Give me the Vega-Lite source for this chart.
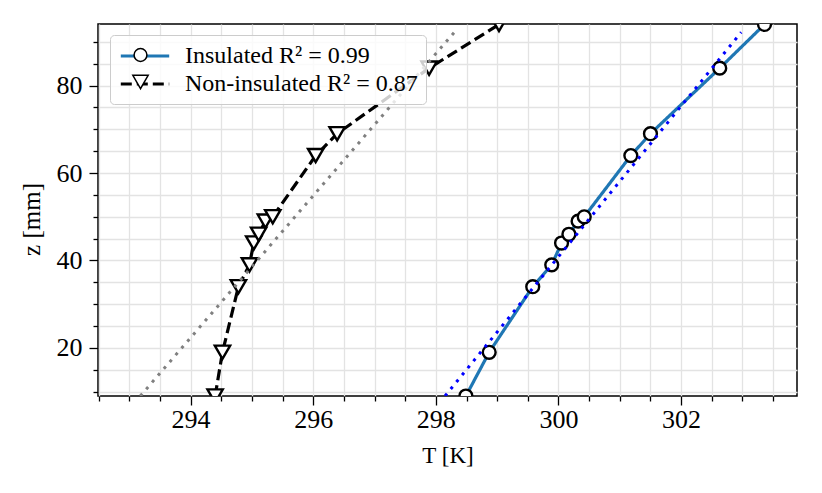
{
  "$schema": "https://vega.github.io/schema/vega-lite/v6.json",
  "width": 699,
  "height": 372,
  "autosize": "none",
  "padding": {"left": 98, "top": 24, "right": 25, "bottom": 97},
  "config": {
    "font": "Liberation Serif",
    "view": {"stroke": "black", "strokeWidth": 1.5}
  },
  "datasets": {
    "profiles": [
      {"series": "Insulated R² = 0.99", "T": 298.49, "z": 9},
      {"series": "Insulated R² = 0.99", "T": 298.87, "z": 19},
      {"series": "Insulated R² = 0.99", "T": 299.58, "z": 34},
      {"series": "Insulated R² = 0.99", "T": 299.89, "z": 39},
      {"series": "Insulated R² = 0.99", "T": 300.05, "z": 44},
      {"series": "Insulated R² = 0.99", "T": 300.17, "z": 46},
      {"series": "Insulated R² = 0.99", "T": 300.32, "z": 49},
      {"series": "Insulated R² = 0.99", "T": 300.42, "z": 50},
      {"series": "Insulated R² = 0.99", "T": 301.18, "z": 64},
      {"series": "Insulated R² = 0.99", "T": 301.5, "z": 69},
      {"series": "Insulated R² = 0.99", "T": 302.63, "z": 84},
      {"series": "Insulated R² = 0.99", "T": 303.36, "z": 94},
      {"series": "Non-insulated R² = 0.87", "T": 294.4, "z": 9},
      {"series": "Non-insulated R² = 0.87", "T": 294.52, "z": 19},
      {"series": "Non-insulated R² = 0.87", "T": 294.78, "z": 34},
      {"series": "Non-insulated R² = 0.87", "T": 294.96, "z": 39},
      {"series": "Non-insulated R² = 0.87", "T": 295.03, "z": 44},
      {"series": "Non-insulated R² = 0.87", "T": 295.11, "z": 46},
      {"series": "Non-insulated R² = 0.87", "T": 295.22, "z": 49},
      {"series": "Non-insulated R² = 0.87", "T": 295.34, "z": 50},
      {"series": "Non-insulated R² = 0.87", "T": 296.04, "z": 64},
      {"series": "Non-insulated R² = 0.87", "T": 296.39, "z": 69},
      {"series": "Non-insulated R² = 0.87", "T": 297.89, "z": 84},
      {"series": "Non-insulated R² = 0.87", "T": 299.03, "z": 94}
    ],
    "fits": [
      {"fit": "insulated", "T": 298.15, "z": 9},
      {"fit": "insulated", "T": 302.98, "z": 92.2},
      {"fit": "non-insulated", "T": 293.18, "z": 9},
      {"fit": "non-insulated", "T": 298.35, "z": 93}
    ]
  },
  "encoding": {
    "x": {
      "field": "T",
      "type": "quantitative",
      "scale": {"domain": [292.49, 303.89], "nice": false, "zero": false},
      "axis": {
        "title": "T [K]",
        "values": [292.5, 293, 293.5, 294, 294.5, 295, 295.5, 296, 296.5, 297, 297.5, 298, 298.5, 299, 299.5, 300, 300.5, 301, 301.5, 302, 302.5, 303, 303.5],
        "tickCount": 40,
        "labelExpr": "datum.value % 2 === 0 ? format(datum.value, 'd') : ''",
        "labelOverlap": false,
        "labelFlush": false,
        "labelFontSize": 26,
        "labelColor": "black",
        "labelPadding": 1,
        "tickSize": {"condition": {"test": "datum.value % 2 === 0", "value": 9}, "value": 5},
        "tickColor": "black",
        "tickWidth": 1.3,
        "domain": false,
        "grid": true,
        "gridColor": "#e3e3e3",
        "gridWidth": 1.3,
        "titleFontSize": 23,
        "titleFontWeight": "normal",
        "titleColor": "black",
        "titleY": 66,
        "titleBaseline": "alphabetic"
      }
    },
    "y": {
      "field": "z",
      "type": "quantitative",
      "scale": {"domain": [9, 94.1], "nice": false, "zero": false},
      "axis": {
        "title": "z [mm]",
        "values": [10, 15, 20, 25, 30, 35, 40, 45, 50, 55, 60, 65, 70, 75, 80, 85, 90],
        "tickCount": 40,
        "labelExpr": "datum.value % 20 === 0 ? format(datum.value, 'd') : ''",
        "labelOverlap": false,
        "labelFlush": false,
        "labelFontSize": 26,
        "labelColor": "black",
        "labelPadding": 7,
        "tickSize": {"condition": {"test": "datum.value % 20 === 0", "value": 9}, "value": 5},
        "tickColor": "black",
        "tickWidth": 1.3,
        "domain": false,
        "grid": true,
        "gridColor": "#e3e3e3",
        "gridWidth": 1.3,
        "titleFontSize": 25,
        "titleFontWeight": "normal",
        "titleColor": "black",
        "titleX": -59,
        "titleY": 195,
        "titleBaseline": "alphabetic"
      }
    }
  },
  "layer": [
    {
      "data": {"name": "profiles"},
      "mark": {"type": "line", "strokeWidth": 3.2, "clip": true},
      "encoding": {
        "order": {"field": "z", "type": "quantitative"},
        "stroke": {
          "field": "series",
          "type": "nominal",
          "scale": {"range": ["#1f77b4", "black"]},
          "legend": {
            "title": null, "orient": "none", "legendX": 12, "legendY": 11, "padding": 8,
            "symbolType": "M-2.2,0H2.2", "symbolSize": 484, "symbolOffset": 14, "symbolStrokeWidth": 3.2,
            "labelFontSize": 24, "labelColor": "black", "labelOffset": 27, "labelLimit": 500, "rowPadding": 3,
            "fillColor": "rgba(255,255,255,0.8)", "strokeColor": "#cccccc", "cornerRadius": 4, "zindex": 1
          }
        },
        "strokeDash": {
          "field": "series",
          "type": "nominal",
          "scale": {"range": [[1, 0], [11, 5]]},
          "legend": {
            "title": null, "orient": "none", "legendX": 12, "legendY": 11, "padding": 8,
            "symbolType": "M-2.2,0H2.2", "symbolSize": 484, "symbolOffset": 14, "symbolStrokeWidth": 3.2,
            "labelFontSize": 24, "labelColor": "black", "labelOffset": 27, "labelLimit": 500, "rowPadding": 3,
            "fillColor": "rgba(255,255,255,0.8)", "strokeColor": "#cccccc", "cornerRadius": 4, "zindex": 1
          }
        }
      }
    },
    {
      "data": {"name": "profiles"},
      "mark": {"type": "point", "filled": true, "fill": "white", "stroke": "black", "strokeWidth": 2.4, "opacity": 1, "clip": true},
      "encoding": {
        "shape": {
          "field": "series",
          "type": "nominal",
          "scale": {"domain": ["Insulated R² = 0.99", "Non-insulated R² = 0.87"], "range": ["circle", "triangle-down"]},
          "legend": {
            "title": null, "orient": "none", "legendX": 12, "legendY": 11, "padding": 8,
            "symbolOffset": 10.5,
            "labelFontSize": 24, "labelExpr": "''", "labelOffset": 27, "labelLimit": 500, "rowPadding": 3, "zindex": 2,
            "encode": {
              "symbols": {
                "update": {
                  "fill": {"value": "white"},
                  "stroke": {"value": "black"},
                  "strokeWidth": {"value": 2.4},
                  "opacity": {"value": 1}
                }
              }
            }
          }
        },
        "size": {
          "field": "series",
          "type": "nominal",
          "scale": {"domain": ["Insulated R² = 0.99", "Non-insulated R² = 0.87"], "range": [165, 235]},
          "legend": {
            "title": null, "orient": "none", "legendX": 12, "legendY": 11, "padding": 8,
            "symbolOffset": 10.5,
            "labelFontSize": 24, "labelExpr": "''", "labelOffset": 27, "labelLimit": 500, "rowPadding": 3, "zindex": 2,
            "encode": {
              "symbols": {
                "update": {
                  "fill": {"value": "white"},
                  "stroke": {"value": "black"},
                  "strokeWidth": {"value": 2.4},
                  "opacity": {"value": 1}
                }
              }
            }
          }
        }
      }
    },
    {
      "data": {"name": "fits"},
      "transform": [{"filter": "datum.fit === 'insulated'"}],
      "mark": {"type": "line", "color": "blue", "strokeWidth": 3, "strokeDash": [3, 6], "clip": true},
      "encoding": {}
    },
    {
      "data": {"name": "fits"},
      "transform": [{"filter": "datum.fit === 'non-insulated'"}],
      "mark": {"type": "line", "color": "gray", "strokeWidth": 3, "strokeDash": [3, 6], "clip": true},
      "encoding": {}
    }
  ]
}
